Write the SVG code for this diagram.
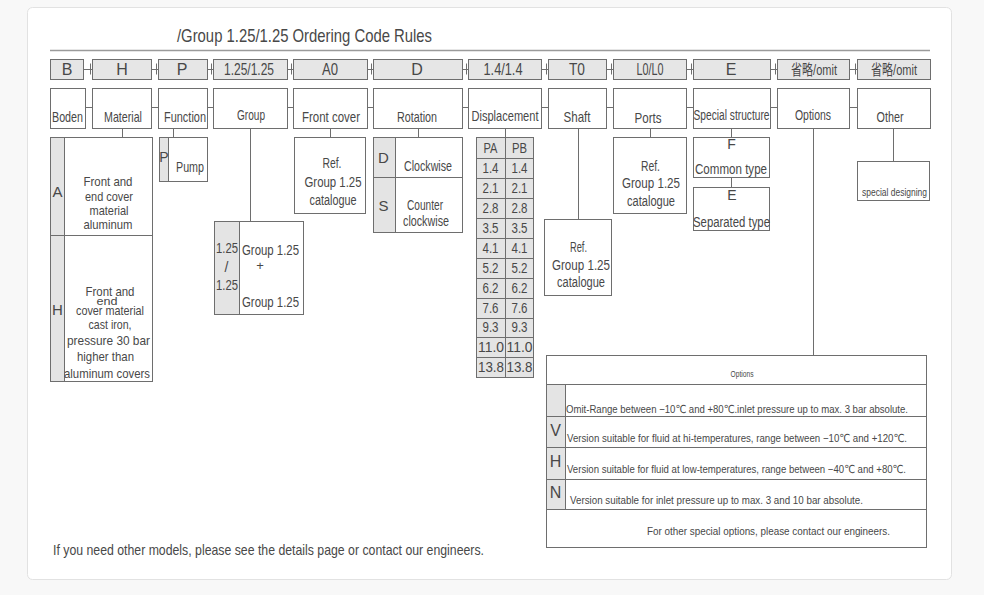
<svg xmlns="http://www.w3.org/2000/svg" width="984" height="595" viewBox="0 0 984 595">
<style>
.bx{fill:#fff;stroke:#6e6e6e;stroke-width:1}
.cd{fill:#e6e6e6;stroke:#6e6e6e;stroke-width:1}
.gr{fill:#e4e4e4;stroke:#6e6e6e;stroke-width:1}
.ln{stroke:#6e6e6e;stroke-width:1;fill:none}
text{font-family:"Liberation Sans","DejaVu Sans","Noto Sans CJK SC",sans-serif;fill:#484848}
.m{text-anchor:middle}
.s16{font-size:16px}
.s15{font-size:15px}
.s14{font-size:14px}
.s13{font-size:13.5px}
.s11{font-size:11px}
</style>
<rect x="0" y="0" width="984" height="595" fill="#f8f8f8"/>
<rect x="27.5" y="7.5" width="924" height="572" rx="5" fill="#ffffff" stroke="#e2e2e2"/>
<text x="177" y="42" font-size="18.5" textLength="255" lengthAdjust="spacingAndGlyphs">/Group 1.25/1.25 Ordering Code Rules</text>
<line x1="50" y1="50.5" x2="930" y2="50.5" stroke="#9a9a9a" stroke-width="1.5"/>

<g id="connectors" class="ln">
<path d="M83 69.5H92M90.5 63.5V74.5M151 69.5H158M156.5 63.5V74.5M207 69.5H213M211.5 63.5V74.5M287 69.5H293M291.5 63.5V74.5M367 69.5H373M371.5 63.5V74.5M462 69.5H468M466.5 63.5V74.5M541 69.5H548M546.5 63.5V74.5M606 69.5H613M611.5 63.5V74.5M686 69.5H693M691.5 63.5V74.5M770 69.5H777M775.5 63.5V74.5M849 69.5H857M855.5 63.5V74.5"/>
<path d="M85 107.5H92M151 107.5H158M207 107.5H213M287 107.5H293M367 107.5H373M462 107.5H468M541 107.5H548M606 107.5H613M686 107.5H693M770 107.5H777M849 107.5H857"/>
<path d="M122.5 128V137M173.5 128V137M250.5 128V221M330.5 128V137M418.5 128V137M505.5 128V137M578.5 128V219M650.5 128V137M731.5 128V137M731.5 177V187M813.5 128V355M893.5 128V161"/>
</g>

<g id="codes">
<rect class="cd" x="50.5" y="59.5" width="33" height="20"/><text class="m s16" x="67" y="75">B</text>
<rect class="cd" x="92.5" y="59.5" width="59" height="20"/><text class="m s16" x="122" y="75">H</text>
<rect class="cd" x="158.5" y="59.5" width="49" height="20"/><text class="m s16" x="182" y="75">P</text>
<rect class="cd" x="213.5" y="59.5" width="74" height="20"/><text class="m s16" x="249" y="74.5" textLength="50" lengthAdjust="spacingAndGlyphs">1.25/1.25</text>
<rect class="cd" x="293.5" y="59.5" width="74" height="20"/><text class="m s16" x="330" y="75" textLength="16" lengthAdjust="spacingAndGlyphs">A0</text>
<rect class="cd" x="373.5" y="59.5" width="89" height="20"/><text class="m s16" x="417" y="75">D</text>
<rect class="cd" x="468.5" y="59.5" width="73" height="20"/><text class="m s16" x="503" y="74.5" textLength="39" lengthAdjust="spacingAndGlyphs">1.4/1.4</text>
<rect class="cd" x="548.5" y="59.5" width="58" height="20"/><text class="m s16" x="577" y="75" textLength="16" lengthAdjust="spacingAndGlyphs">T0</text>
<rect class="cd" x="613.5" y="59.5" width="73" height="20"/><text class="m s16" x="650" y="74.5" textLength="27" lengthAdjust="spacingAndGlyphs">L0/L0</text>
<rect class="cd" x="693.5" y="59.5" width="77" height="20"/><text class="m s16" x="731" y="75">E</text>
<rect class="cd" x="777.5" y="59.5" width="72" height="20"/><text class="m s15" x="814" y="74.5" textLength="46" lengthAdjust="spacingAndGlyphs">省略/omit</text>
<rect class="cd" x="857.5" y="59.5" width="73" height="20"/><text class="m s15" x="894" y="74.5" textLength="46" lengthAdjust="spacingAndGlyphs">省略/omit</text>
</g>

<g id="names">
<rect class="bx" x="50.5" y="88.5" width="35" height="40"/><text class="s15" x="52" y="122" textLength="31" lengthAdjust="spacingAndGlyphs">Boden</text>
<rect class="bx" x="92.5" y="88.5" width="59" height="40"/><text class="m s15" x="123" y="122" textLength="38" lengthAdjust="spacingAndGlyphs">Material</text>
<rect class="bx" x="158.5" y="88.5" width="49" height="40"/><text class="s15" x="164" y="122" textLength="42" lengthAdjust="spacingAndGlyphs">Function</text>
<rect class="bx" x="213.5" y="88.5" width="74" height="40"/><text class="m s15" x="251" y="120" textLength="28" lengthAdjust="spacingAndGlyphs">Group</text>
<rect class="bx" x="293.5" y="88.5" width="74" height="40"/><text class="m s15" x="331" y="122" textLength="58" lengthAdjust="spacingAndGlyphs">Front cover</text>
<rect class="bx" x="373.5" y="88.5" width="89" height="40"/><text class="m s15" x="417" y="122" textLength="40" lengthAdjust="spacingAndGlyphs">Rotation</text>
<rect class="bx" x="468.5" y="88.5" width="73" height="40"/><text class="m s15" x="505" y="121" textLength="67" lengthAdjust="spacingAndGlyphs">Displacement</text>
<rect class="bx" x="548.5" y="88.5" width="58" height="40"/><text class="m s15" x="577" y="122" textLength="27" lengthAdjust="spacingAndGlyphs">Shaft</text>
<rect class="bx" x="613.5" y="88.5" width="73" height="40"/><text class="m s15" x="648" y="123" textLength="27" lengthAdjust="spacingAndGlyphs">Ports</text>
<rect class="bx" x="693.5" y="88.5" width="77" height="40"/><text class="m s14" x="731.5" y="120" textLength="76" lengthAdjust="spacingAndGlyphs">Special structure</text>
<rect class="bx" x="777.5" y="88.5" width="72" height="40"/><text class="m s15" x="813" y="120" textLength="36" lengthAdjust="spacingAndGlyphs">Options</text>
<rect class="bx" x="857.5" y="88.5" width="73" height="40"/><text class="m s15" x="890" y="122" textLength="27" lengthAdjust="spacingAndGlyphs">Other</text>
</g>

<g id="material-detail">
<rect class="bx" x="50.5" y="137.5" width="102" height="244"/>
<rect class="gr" x="50.5" y="137.5" width="14" height="244"/>
<line class="ln" x1="50.5" y1="235.5" x2="152.5" y2="235.5"/>
<text class="m s15" x="57.5" y="197">A</text>
<text class="m s13" x="108" y="186" textLength="49" lengthAdjust="spacingAndGlyphs">Front and</text>
<text class="m s13" x="109" y="201" textLength="48" lengthAdjust="spacingAndGlyphs">end cover</text>
<text class="m s13" x="109" y="215" textLength="39" lengthAdjust="spacingAndGlyphs">material</text>
<text class="m s13" x="108" y="229" textLength="49" lengthAdjust="spacingAndGlyphs">aluminum</text>
<text class="m s15" x="57.5" y="315">H</text>
<text class="m s13" x="110" y="296" textLength="49" lengthAdjust="spacingAndGlyphs">Front and</text>
<text class="m" x="107" y="305" font-size="11.5" textLength="21" lengthAdjust="spacingAndGlyphs">end</text>
<text class="m s13" x="110" y="315" textLength="68" lengthAdjust="spacingAndGlyphs">cover material</text>
<text class="m s13" x="110" y="329" textLength="43" lengthAdjust="spacingAndGlyphs">cast iron,</text>
<text class="m s13" x="108.5" y="345" textLength="83" lengthAdjust="spacingAndGlyphs">pressure 30 bar</text>
<text class="m s13" x="105.5" y="361" textLength="57" lengthAdjust="spacingAndGlyphs">higher than</text>
<text class="m s13" x="107" y="378" textLength="86" lengthAdjust="spacingAndGlyphs">aluminum covers</text>
</g>

<g id="function-detail">
<rect class="bx" x="159.5" y="137.5" width="48" height="44"/>
<rect class="gr" x="159.5" y="137.5" width="9" height="44"/>
<text class="m s14" x="164" y="162">P</text>
<text class="m s14" x="190" y="172" textLength="28" lengthAdjust="spacingAndGlyphs">Pump</text>
</g>

<g id="group-detail">
<rect class="bx" x="214.5" y="221.5" width="89" height="93"/>
<rect class="gr" x="214.5" y="221.5" width="25" height="93"/>
<text class="m s14" x="227" y="253" textLength="22" lengthAdjust="spacingAndGlyphs">1.25</text>
<text class="m s14" x="226.5" y="272">/</text>
<text class="m s14" x="227" y="290" textLength="22" lengthAdjust="spacingAndGlyphs">1.25</text>
<text class="m s14" x="270.5" y="255" textLength="57" lengthAdjust="spacingAndGlyphs">Group 1.25</text>
<text class="m" x="260" y="270" font-size="13">+</text>
<text class="m s14" x="270.5" y="307" textLength="57" lengthAdjust="spacingAndGlyphs">Group 1.25</text>
</g>

<g id="frontcover-detail">
<rect class="bx" x="294.5" y="137.5" width="71" height="76"/>
<text class="m s14" x="332" y="168" textLength="19" lengthAdjust="spacingAndGlyphs">Ref.</text>
<text class="m s14" x="333" y="187" textLength="57" lengthAdjust="spacingAndGlyphs">Group 1.25</text>
<text class="m s14" x="333" y="205" textLength="47" lengthAdjust="spacingAndGlyphs">catalogue</text>
</g>

<g id="rotation-detail">
<rect class="bx" x="373.5" y="137.5" width="89" height="95"/>
<rect class="gr" x="373.5" y="137.5" width="22" height="95"/>
<line class="ln" x1="373.5" y1="177.5" x2="462.5" y2="177.5"/>
<text class="m s15" x="383.5" y="163">D</text>
<text class="m s14" x="428" y="171" textLength="48" lengthAdjust="spacingAndGlyphs">Clockwise</text>
<text class="m s15" x="383.5" y="211">S</text>
<text class="m s14" x="425" y="210" textLength="36" lengthAdjust="spacingAndGlyphs">Counter</text>
<text class="m s14" x="426" y="226" textLength="46" lengthAdjust="spacingAndGlyphs">clockwise</text>
</g>

<g id="displacement-detail">
<rect class="gr" x="476.5" y="137.5" width="57" height="240"/>
<path class="ln" d="M505.5 137.5V377.5M476.5 158.5H533.5M476.5 178.5H533.5M476.5 198.5H533.5M476.5 218.5H533.5M476.5 238.5H533.5M476.5 258.5H533.5M476.5 278.5H533.5M476.5 298.5H533.5M476.5 318.5H533.5M476.5 337.5H533.5M476.5 357.5H533.5"/>
<g class="s15">
<text class="m" x="490.5" y="153" textLength="14" lengthAdjust="spacingAndGlyphs">PA</text>
<text class="m" x="519.5" y="153" textLength="15" lengthAdjust="spacingAndGlyphs">PB</text>
<text class="m" x="490.5" y="173" textLength="16" lengthAdjust="spacingAndGlyphs">1.4</text>
<text class="m" x="519.5" y="173" textLength="16" lengthAdjust="spacingAndGlyphs">1.4</text>
<text class="m" x="490.5" y="193" textLength="16" lengthAdjust="spacingAndGlyphs">2.1</text>
<text class="m" x="519.5" y="193" textLength="16" lengthAdjust="spacingAndGlyphs">2.1</text>
<text class="m" x="490.5" y="213" textLength="16" lengthAdjust="spacingAndGlyphs">2.8</text>
<text class="m" x="519.5" y="213" textLength="16" lengthAdjust="spacingAndGlyphs">2.8</text>
<text class="m" x="490.5" y="233" textLength="16" lengthAdjust="spacingAndGlyphs">3.5</text>
<text class="m" x="519.5" y="233" textLength="16" lengthAdjust="spacingAndGlyphs">3.5</text>
<text class="m" x="490.5" y="253" textLength="16" lengthAdjust="spacingAndGlyphs">4.1</text>
<text class="m" x="519.5" y="253" textLength="16" lengthAdjust="spacingAndGlyphs">4.1</text>
<text class="m" x="490.5" y="273" textLength="16" lengthAdjust="spacingAndGlyphs">5.2</text>
<text class="m" x="519.5" y="273" textLength="16" lengthAdjust="spacingAndGlyphs">5.2</text>
<text class="m" x="490.5" y="293" textLength="16" lengthAdjust="spacingAndGlyphs">6.2</text>
<text class="m" x="519.5" y="293" textLength="16" lengthAdjust="spacingAndGlyphs">6.2</text>
<text class="m" x="490.5" y="313" textLength="16" lengthAdjust="spacingAndGlyphs">7.6</text>
<text class="m" x="519.5" y="313" textLength="16" lengthAdjust="spacingAndGlyphs">7.6</text>
<text class="m" x="490.5" y="332" textLength="16" lengthAdjust="spacingAndGlyphs">9.3</text>
<text class="m" x="519.5" y="332" textLength="16" lengthAdjust="spacingAndGlyphs">9.3</text>
<text class="m" x="491" y="352" textLength="26" lengthAdjust="spacingAndGlyphs">11.0</text>
<text class="m" x="519.5" y="352" textLength="26" lengthAdjust="spacingAndGlyphs">11.0</text>
<text class="m" x="491" y="372" textLength="26" lengthAdjust="spacingAndGlyphs">13.8</text>
<text class="m" x="519.5" y="372" textLength="26" lengthAdjust="spacingAndGlyphs">13.8</text>
</g>
</g>

<g id="shaft-detail">
<rect class="bx" x="544.5" y="219.5" width="67" height="76"/>
<text class="m s14" x="578.5" y="252" textLength="17" lengthAdjust="spacingAndGlyphs">Ref.</text>
<text class="m s14" x="581" y="270" textLength="58" lengthAdjust="spacingAndGlyphs">Group 1.25</text>
<text class="m s14" x="581" y="287" textLength="48" lengthAdjust="spacingAndGlyphs">catalogue</text>
</g>

<g id="ports-detail">
<rect class="bx" x="613.5" y="137.5" width="73" height="76"/>
<text class="m s14" x="650.5" y="171" textLength="19" lengthAdjust="spacingAndGlyphs">Ref.</text>
<text class="m s14" x="651" y="188" textLength="58" lengthAdjust="spacingAndGlyphs">Group 1.25</text>
<text class="m s14" x="651" y="206" textLength="48" lengthAdjust="spacingAndGlyphs">catalogue</text>
</g>

<g id="special-common">
<rect class="bx" x="693.5" y="137.5" width="76" height="40"/>
<text class="m s14" x="731.5" y="149">F</text>
<text class="m s14" x="731" y="174" textLength="72" lengthAdjust="spacingAndGlyphs">Common type</text>
</g>
<g id="special-separated">
<rect class="bx" x="693.5" y="187.5" width="76" height="43"/>
<text class="m s14" x="732" y="200">E</text>
<text class="m s14" x="731.5" y="227" textLength="77" lengthAdjust="spacingAndGlyphs">Separated type</text>
</g>

<g id="other-detail">
<rect class="bx" x="857.5" y="161.5" width="72" height="39"/>
<text class="m s11" x="894.5" y="196" textLength="65" lengthAdjust="spacingAndGlyphs">special designing</text>
</g>

<g id="options-table">
<rect class="bx" x="546.5" y="355.5" width="380" height="192"/>
<rect class="gr" x="546.5" y="384.5" width="19" height="125"/>
<path class="ln" d="M546.5 384.5H926.5M546.5 416.5H926.5M546.5 447.5H926.5M546.5 479.5H926.5M546.5 509.5H926.5M565.5 384.5V509.5"/>
<text class="m" x="742" y="377" font-size="9.5" textLength="23" lengthAdjust="spacingAndGlyphs">Options</text>
<text class="s11" x="566" y="413" textLength="342" lengthAdjust="spacingAndGlyphs">Omit-Range between −10℃ and +80℃.inlet pressure up to max. 3 bar absolute.</text>
<text class="m s16" x="555.5" y="436">V</text>
<text class="s11" x="567" y="442" textLength="340" lengthAdjust="spacingAndGlyphs">Version suitable for fluid at hi-temperatures, range between −10℃ and +120℃.</text>
<text class="m s16" x="555.5" y="467">H</text>
<text class="s11" x="567" y="473" textLength="339" lengthAdjust="spacingAndGlyphs">Version suitable for fluid at low-temperatures, range between −40℃ and +80℃.</text>
<text class="m s16" x="555.5" y="498">N</text>
<text class="s11" x="570" y="504" textLength="293" lengthAdjust="spacingAndGlyphs">Version suitable for inlet pressure up to max. 3 and 10 bar absolute.</text>
<text class="s11" x="647" y="535" textLength="243" lengthAdjust="spacingAndGlyphs">For other special options, please contact our engineers.</text>
</g>

<text x="53" y="555" font-size="15" textLength="431" lengthAdjust="spacingAndGlyphs">If you need other models, please see the details page or contact our engineers.</text>
</svg>
